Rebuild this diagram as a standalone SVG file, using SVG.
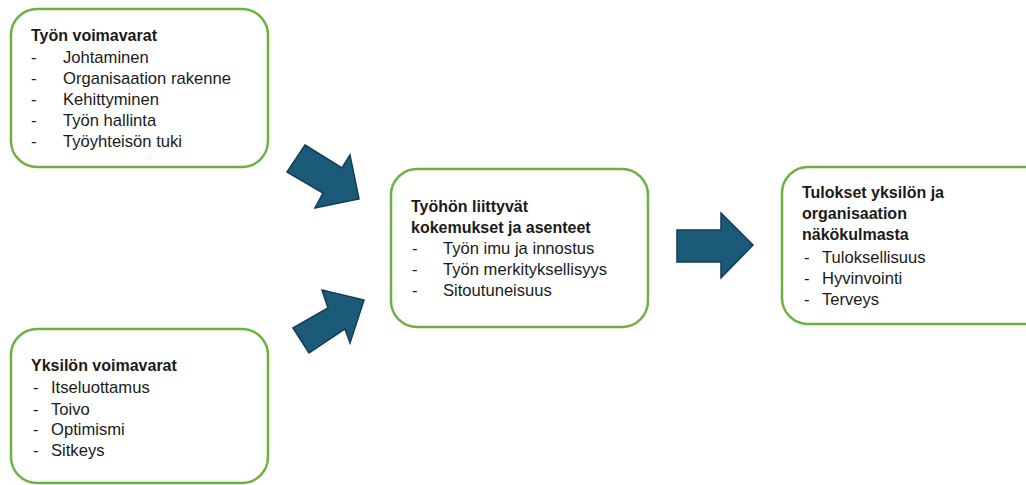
<svg xmlns="http://www.w3.org/2000/svg" width="1026" height="485" viewBox="0 0 1026 485">
<style>
.box{fill:#fff;stroke:#6fb043;stroke-width:2.5}
.t{font-family:"Liberation Sans",Arial,sans-serif;font-size:16.6px;fill:#1a1a1a}
.b{font-weight:bold;font-size:16px}
.arr{fill:#1b5a78;stroke:#123d52;stroke-width:1.5;stroke-linejoin:miter}
</style>
<rect width="1026" height="485" fill="#fff"/>
<g id="tyon-voimavarat">
<rect class="box" x="11" y="9" width="257" height="158" rx="26"/>
<text class="t b" x="31" y="41">Työn voimavarat</text>
<text class="t" x="31" y="63">-</text><text class="t" x="63" y="63">Johtaminen</text>
<text class="t" x="31" y="84">-</text><text class="t" x="63" y="84">Organisaation rakenne</text>
<text class="t" x="31" y="105">-</text><text class="t" x="63" y="105">Kehittyminen</text>
<text class="t" x="31" y="126">-</text><text class="t" x="63" y="126">Työn hallinta</text>
<text class="t" x="31" y="147">-</text><text class="t" x="63" y="147">Työyhteisön tuki</text>
</g>
<g id="yksilon-voimavarat">
<rect class="box" x="11" y="329" width="257" height="154" rx="26"/>
<text class="t b" x="31" y="371">Yksilön voimavarat</text>
<text class="t" x="33" y="393">-</text><text class="t" x="51" y="393">Itseluottamus</text>
<text class="t" x="33" y="415">-</text><text class="t" x="51" y="415">Toivo</text>
<text class="t" x="33" y="435">-</text><text class="t" x="51" y="435">Optimismi</text>
<text class="t" x="33" y="456">-</text><text class="t" x="51" y="456">Sitkeys</text>
</g>
<g id="kokemukset">
<rect class="box" x="391" y="169" width="257" height="158" rx="26"/>
<text class="t b" x="411" y="212">Työhön liittyvät</text>
<text class="t b" x="411" y="233">kokemukset ja asenteet</text>
<text class="t" x="412" y="254">-</text><text class="t" x="443" y="254">Työn imu ja innostus</text>
<text class="t" x="412" y="275">-</text><text class="t" x="443" y="275">Työn merkityksellisyys</text>
<text class="t" x="412" y="296">-</text><text class="t" x="443" y="296">Sitoutuneisuus</text>
</g>
<g id="tulokset">
<rect class="box" x="782" y="167" width="270" height="157" rx="26"/>
<text class="t b" x="802" y="198">Tulokset yksilön ja</text>
<text class="t b" x="802" y="219">organisaation</text>
<text class="t b" x="802" y="240">näkökulmasta</text>
<text class="t" x="804" y="263">-</text><text class="t" x="822" y="263">Tuloksellisuus</text>
<text class="t" x="804" y="284">-</text><text class="t" x="822" y="284">Hyvinvointi</text>
<text class="t" x="804" y="305">-</text><text class="t" x="822" y="305">Terveys</text>
</g>
<g id="connectors">
<polygon class="arr" points="305,145 342,168 350,155 359,199 315,208 323,193 287,172"/>
<polygon class="arr" points="293,328 328,308 322,290 364,300 350,343 345,329 309,353"/>
<polygon class="arr" points="677,230 721,230 721,213 753,245 721,278 721,262 677,262"/>
</g>
</svg>
